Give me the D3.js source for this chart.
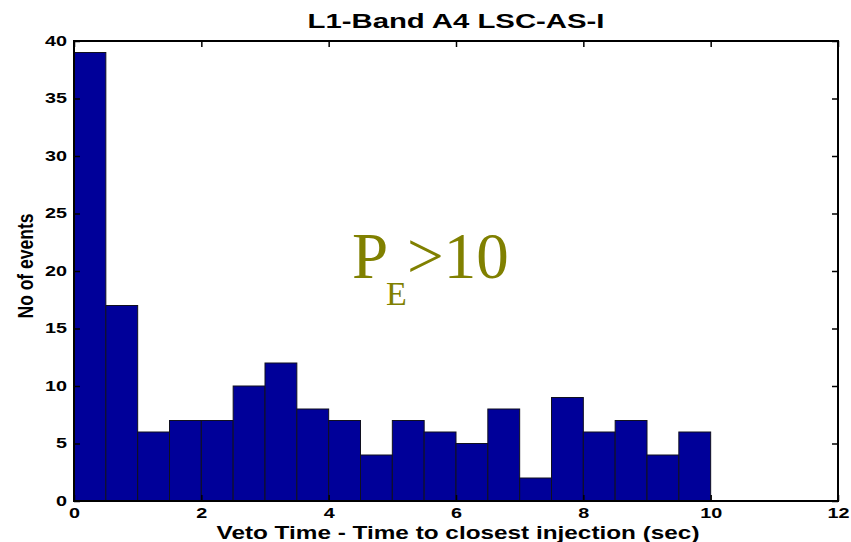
<!DOCTYPE html>
<html>
<head>
<meta charset="utf-8">
<script src="https://cdn.jsdelivr.net/npm/d3@7"></script>
<style>
  html, body { margin: 0; padding: 0; background: #fff; }
  svg { display: block; }
  text { font-family: "Liberation Sans", Arial, sans-serif; }
</style>
</head>
<body>
<svg id="chart" width="851" height="542"></svg>
<script>
// Histogram of veto times (bin width 0.5 s)
const binStarts = [0, 0.5, 1, 1.5, 2, 2.5, 3, 3.5, 4, 4.5, 5, 5.5, 6, 6.5, 7, 7.5, 8, 8.5, 9, 9.5];
const counts    = [39, 17, 6, 7, 7, 10, 12, 8, 7, 4, 7, 6, 5, 8, 2, 9, 6, 7, 4, 6];
const binWidth = 0.5;
const xTicks = [0, 2, 4, 6, 8, 10, 12];
const yTicks = [0, 5, 10, 15, 20, 25, 30, 35, 40];

const titleText = "L1-Band A4 LSC-AS-I";
const xLabel = "Veto Time - Time to closest injection (sec)";
const yLabel = "No of events";

const svg = d3.select("#chart");
const m = { left: 74, right: 13, top: 41, bottom: 41 };
const W = 851, H = 542;
const x = d3.scaleLinear().domain([0, 12]).range([m.left, W - m.right]);
const y = d3.scaleLinear().domain([0, 40]).range([H - m.bottom, m.top]);

// bars
svg.append("g").selectAll("rect")
  .data(binStarts.map((s, i) => ({ s, c: counts[i] })))
  .join("rect")
  .attr("x", d => x(d.s))
  .attr("y", d => y(d.c))
  .attr("width", d => x(d.s + binWidth) - x(d.s))
  .attr("height", d => y(0) - y(d.c))
  .attr("fill", "#000099")
  .attr("stroke", "#101020")
  .attr("stroke-width", 1);

// axes with inward ticks; wide bold labels
const tickLen = 6;
const axStyle = g => {
  g.selectAll("path").remove();
  g.selectAll("line").attr("stroke", "#000").attr("stroke-width", 1.5);
  g.selectAll("text")
    .attr("font-weight", "bold").attr("font-size", 14).attr("fill", "#000")
    .each(function () {
      const t = d3.select(this);
      const s = t.text();
      if (s) t.attr("textLength", 11 * s.length).attr("lengthAdjust", "spacingAndGlyphs");
    });
};
svg.append("g").attr("transform", `translate(0,${y(0)})`)
  .call(d3.axisBottom(x).tickValues(xTicks).tickSize(-tickLen).tickPadding(7).tickFormat(d3.format("d")))
  .call(axStyle);
svg.append("g").attr("transform", `translate(${x(0)},0)`)
  .call(d3.axisLeft(y).tickValues(yTicks).tickSize(-tickLen).tickPadding(7).tickFormat(d3.format("d")))
  .call(axStyle);
svg.append("g").attr("transform", `translate(0,${y(40)})`)
  .call(d3.axisTop(x).tickValues(xTicks).tickSize(-tickLen).tickFormat(""))
  .call(axStyle);
svg.append("g").attr("transform", `translate(${x(12)},0)`)
  .call(d3.axisRight(y).tickValues(yTicks).tickSize(-tickLen).tickFormat(""))
  .call(axStyle);

// frame
svg.append("rect")
  .attr("x", x(0)).attr("y", y(40))
  .attr("width", x(12) - x(0)).attr("height", y(0) - y(40))
  .attr("fill", "none").attr("stroke", "#000").attr("stroke-width", 2);

// title and axis labels
const cx = (x(0) + x(12)) / 2;
svg.append("text").attr("x", cx).attr("y", 28)
  .attr("text-anchor", "middle").attr("font-weight", "bold").attr("font-size", 20)
  .attr("textLength", 297).attr("lengthAdjust", "spacingAndGlyphs")
  .text(titleText);
svg.append("text").attr("x", cx + 2).attr("y", 539)
  .attr("text-anchor", "middle").attr("font-weight", "bold").attr("font-size", 18)
  .attr("textLength", 483).attr("lengthAdjust", "spacingAndGlyphs")
  .text(xLabel);
svg.append("text").attr("transform", `translate(33,${(y(0) + y(40)) / 2 - 5}) rotate(-90)`)
  .attr("text-anchor", "middle").attr("font-weight", "bold").attr("font-size", 22)
  .attr("textLength", 105).attr("lengthAdjust", "spacingAndGlyphs")
  .text(yLabel);

// annotation P_E > 10
const ann = svg.append("g").attr("fill", "#808000");
const serif = "'Liberation Serif', 'Times New Roman', serif";
ann.append("text").attr("x", 352).attr("y", 278).attr("font-size", 65).style("font-family", serif).text("P");
ann.append("text").attr("x", 386).attr("y", 305).attr("font-size", 34).style("font-family", serif).text("E");
ann.append("text").attr("x", 407).attr("y", 278).attr("font-size", 65).style("font-family", serif).text(">10");
</script>
</body>
</html>
